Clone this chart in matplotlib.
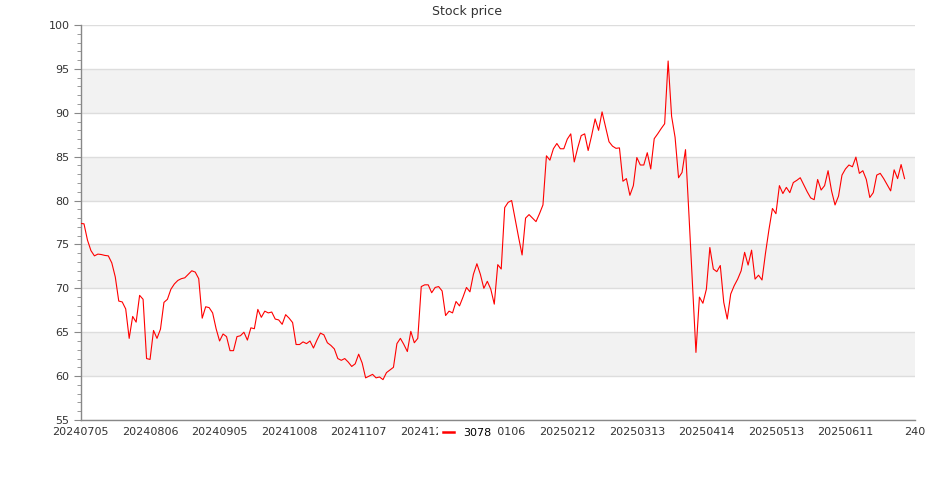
import numpy as np
import matplotlib
matplotlib.use("Agg")
import matplotlib.pyplot as plt
from matplotlib.ticker import MultipleLocator, FixedLocator

# closing prices, one per trading day
prices_q3 = [77.4, 77.35, 75.5, 74.3, 73.7, 73.9, 73.85, 73.75, 73.7, 72.9,
             71.3, 68.55, 68.45, 67.65, 64.3, 66.8, 66.15, 69.2, 68.75, 62.0,
             61.9, 65.2, 64.3, 65.35, 68.4, 68.75, 69.9, 70.5, 70.9, 71.1,
             71.2, 71.6, 72.0, 71.85, 71.1, 66.6, 67.9, 67.8, 67.2, 65.4,
             64.0, 64.8, 64.5, 62.9, 62.9, 64.5, 64.6, 65.0, 64.1, 65.5,
             65.4, 67.6, 66.7, 67.4, 67.2, 67.3, 66.5, 66.4, 65.9, 67.0]
prices_q4 = [66.6, 66.1, 63.6, 63.6, 63.9, 63.7, 64.0, 63.2, 64.1, 64.9,
             64.7, 63.8, 63.5, 63.1, 62.0, 61.8, 62.0, 61.6, 61.1, 61.4,
             62.5, 61.5, 59.8, 60.0, 60.2, 59.8, 59.9, 59.6, 60.4, 60.7,
             61.0, 63.7, 64.3, 63.6, 62.8, 65.1, 63.8, 64.3, 70.2, 70.4,
             70.4, 69.5, 70.1, 70.2, 69.7, 66.9, 67.4, 67.2, 68.5, 68.0,
             69.0, 70.1, 69.6, 71.6, 72.8, 71.6, 70.0, 70.8, 69.9, 68.2]
prices_q1 = [72.7, 72.2, 79.2, 79.8, 80.0, 77.9, 75.8, 73.8, 78.0, 78.4,
             78.0, 77.6, 78.5, 79.5, 85.1, 84.6, 85.9, 86.5, 85.9, 85.9,
             87.0, 87.6, 84.4, 86.0, 87.4, 87.6, 85.7, 87.4, 89.3, 88.0,
             90.1, 88.4, 86.7, 86.2, 85.95, 86.0, 82.2, 82.5, 80.6, 81.7,
             84.9, 84.05, 84.05, 85.45, 83.6, 87.05, 87.6, 88.2, 88.75, 95.9,
             89.6, 87.2, 82.6, 83.2, 85.8, 78.3, 70.5, 62.7, 69.0, 68.3]
prices_q2 = [69.9, 74.65, 72.2, 71.9, 72.6, 68.4, 66.5, 69.35, 70.3, 71.05,
             72.0, 74.1, 72.65, 74.35, 71.05, 71.5, 70.95, 74.0, 76.7, 79.1,
             78.5, 81.7, 80.8, 81.5, 80.9, 82.05, 82.3, 82.6, 81.8, 81.0,
             80.3, 80.1, 82.4, 81.2, 81.7, 83.4, 81.1, 79.5, 80.5, 82.9,
             83.6, 84.05, 83.85, 84.95, 83.1, 83.4, 82.4, 80.35, 80.9, 82.9,
             83.1, 82.5, 81.8, 81.1, 83.5, 82.5, 84.1, 82.5]
prices = prices_q3 + prices_q4 + prices_q1 + prices_q2

tick_labels = ["20240705", "20240806", "20240905", "20241008", "20241107",
               "20241206", "20250106", "20250212", "20250313", "20250414",
               "20250513", "20250611", "240"]
tick_step = 20
series_name = "3078"

fig = plt.figure(figsize=(9.35, 5.0), dpi=100)
ax = fig.add_axes([80.5 / 935, 80 / 500, (915 - 80.5) / 935, 395 / 500])

# alternating background bands
for lo in range(60, 100, 10):
    ax.axhspan(lo, lo + 5, color="#f2f2f2", zorder=0, lw=0)

x = np.arange(len(prices))
ax.plot(x, prices, color="red", lw=0.8, label=series_name, zorder=3)

ax.set_ylim(55, 100)
ax.set_xlim(0, tick_step * (len(tick_labels) - 1))
ax.yaxis.set_major_locator(MultipleLocator(5))
ax.yaxis.set_minor_locator(MultipleLocator(1))
ax.grid(axis="y", which="major", color="#dddddd", lw=1, zorder=1)
ax.set_axisbelow(True)

ax.xaxis.set_major_locator(FixedLocator([i * tick_step for i in range(len(tick_labels))]))
ax.set_xticklabels(tick_labels)

for s in ["top", "right"]:
    ax.spines[s].set_visible(False)
for s in ["left", "bottom"]:
    ax.spines[s].set_color("#888888")
    ax.spines[s].set_linewidth(1)

ax.tick_params(axis="y", which="major", length=5, color="#888888",
               labelsize=8, labelcolor="#333333", pad=3)
ax.tick_params(axis="y", which="minor", length=3, color="#888888")
ax.tick_params(axis="x", length=0, labelsize=8, labelcolor="#333333", pad=5)

fig.text(0.5, 1 - 12 / 500, "Stock price", ha="center", va="center",
         fontsize=9, color="#333333")

leg = fig.legend(loc="center", bbox_to_anchor=(0.5, 1 - 433 / 500),
                 fontsize=8, frameon=True, facecolor="white", edgecolor="none",
                 framealpha=1, fancybox=False, handlelength=1.0,
                 handletextpad=0.8, borderpad=0.45, borderaxespad=0)
leg.get_lines()[0].set_linewidth(1.8)

fig.savefig("out.png", dpi=100)
